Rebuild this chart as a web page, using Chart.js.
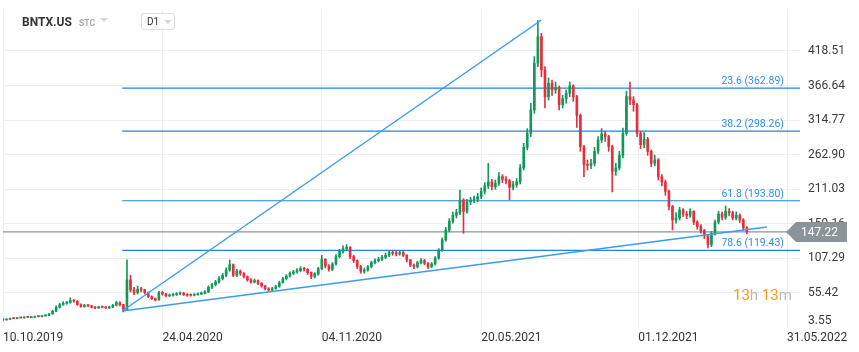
<!DOCTYPE html>
<html>
<head>
<meta charset="utf-8">
<script src="https://cdn.jsdelivr.net/npm/chart.js@4.4.1/dist/chart.umd.min.js"></script>
<style>
  html, body { margin: 0; padding: 0; background: #fff; }
  #wrap { position: relative; width: 859px; height: 352px; overflow: hidden; }
  #chart { position: absolute; left: 0; top: 0; }
  .sym { position: absolute; left: 22px; top: 15px; font: bold 12px Roboto, sans-serif; color: #333; }
  .kind { position: absolute; left: 79px; top: 18px; font: bold 8.5px Roboto, sans-serif; color: #a9a9a9; }
  .tri { position: absolute; width: 0; height: 0; border-left: 4px solid transparent; border-right: 4px solid transparent; border-top: 4px solid #d6d6d6; }
  .tf { position: absolute; left: 141px; top: 13px; width: 34px; height: 17px; border: 1px solid #dedede; border-radius: 3px; background: #fff; box-sizing: border-box; }
  .tf span { position: absolute; left: 5px; top: 2px; font: 10px Roboto, sans-serif; color: #333; }
</style>
</head>
<body>
<div id="wrap">
  <canvas id="chart" width="859" height="352"></canvas>
  <div class="sym">BNTX.US</div>
  <div class="kind">STC</div>
  <div class="tri" style="left:100px; top:18px;"></div>
  <div class="tf"><span>D1</span><div class="tri" style="left:22px; top:6px;"></div></div>
</div>
<script>
// one candle per 3 trading days, x = trading days since 10.10.2019
const opens = [15.5,15,16,17.5,17,18.4,18,19.4,18.7,19, 20.5,20,21,22,24,28,34,38,40,41,
  44,43,38,35,37,36,34,33,34.6,34, 33,34,37,41,38,30,75,60,56,61, 60,56,50,47,45,56,54,51,52,53,
  54,55,53,52.8,52,53,54,55,57,64, 68,72,77,82,90,98,82,88,85,80, 75,72,74,70,66,62,60,62,65,71,
  77,81,85,87,89,92,91,86,80,84, 92,106,96,91,99,110,118,122,124,110, 104,95,88,90,95,101,104,106,109,112,
  116,115,114,116,112,105,97,95,101,104, 100,95,99,108,120,135,150,163,172,176, 195,178,192,195,196,200,208,216,222,215,
  220,230,226,224,214,218,222,243,274,295, 330,400,440,390,350,370,360,364,338,347, 355,366,350,322,275,248,247,250,268,285,
  294,290,275,238,243,262,295,350,345,338, 295,278,286,268,250,255,230,222,208,185, 165,168,180,174,172,178,162,155,149,141,
  128,145,162,174,169,178,176,168,172,165,153];
const highs = [16.5,16.8,17.6,18,18.6,19,19.6,20,19.8,20.8, 21.2,21.8,23,25,29.5,36,40,42.5,43,48,
  46,44,39,38.5,38.5,37,35,35.5,35.8,35, 35.5,38.5,43,42,38.5,105,82,64,66,64, 61,57,51,48,58,58,55,54,55,56,
  57,56.5,54.5,54,54.5,55.5,57,59,66,70, 74.5,80,85,93,105,99,91,90,86,81, 77,76.5,75,71,67,63.5,64,67,73,79,
  83,87,89.5,92,95,94,92,87,86,94, 112,107,98,101,113,121,126,128,125,112, 105,97,93,97,103,106.5,109,112,115,119,
  119,118,119,118,113,106,99,103,107,106, 101,101,110,122,138,154,167,177,181,210, 197,196,199,201,205,213,221,250,226,225,
  236,233,230,226,223,227,248,280,302,340, 410,464,445,395,378,375,372,366,352,360, 372,368,352,324,277,255,256,274,290,302,
  298,292,277,250,268,303,358,372,350,340, 298,296,289,270,262,257,233,225,210,187, 176,184,182,178,182,179,164,158,151,143,
  148,165,178,177,186,182,178,177,174,167,155];
const lows = [14,14.6,15.6,16.6,16.7,17.5,17.6,18.5,18.2,18.6, 19.4,19.6,20.5,21.5,23.5,27.5,33,37,38.5,40,
  41.5,37,34,34,35,33,32,32.3,33,32, 32.2,33.5,36,36,27,29,57,53,54,57, 54,48.5,45.5,43.5,44.5,52,49.5,50,50.5,51.5,
  52.5,51.5,50.5,50.5,51,52,53,54,56,62, 66,70,75,80,88,80,80,82,78,73, 70,70.5,68,64,60,58,58.5,61,64,70,
  75,79,83,85,87,88,83,77,78,82, 90,93,88,89,97,108,115,119,107,101, 92,85,85,88,93,99,102,104,107,110,
  112,111,112,110,102,95,92,93,99,98, 92,93,97,106,118,133,147,160,168,173, 145,175,188,191,192,197,204,212,210,211,
  217,221,219,195,210,214,219,240,270,290, 325,395,380,333,345,352,355,330,333,340, 350,343,304,268,230,240,242,246,264,281,
  283,268,207,232,240,258,292,338,328,290, 272,273,262,245,246,225,216,202,180,150, 160,165,170,167,169,158,151,145,137,123,
  125,142,159,165,166,171,165,165,161,150,144];
const closes = [15,16,17,17,18,18,19,19,19,20, 20,21,22,24,28,34,38,40,41,44,
  43,38,35,37,36,34,33,34,34,33, 34,37,41,38,30,75,60,56,61,60, 56,50,47,45,56,54,51,52,53,54,
  55,53,52,52,53,54,55,57,64,68, 72,77,82,90,98,82,88,85,80,75, 72,74,70,66,62,60,62,65,71,77,
  81,85,87,89,92,91,86,80,84,92, 106,96,91,99,110,118,122,124,110,104, 95,88,90,95,101,104,106,109,112,116,
  115,114,116,112,105,97,95,101,104,100, 95,99,108,120,135,150,163,172,176,195, 178,192,195,196,200,208,216,222,215,220,
  230,226,224,214,218,222,243,274,295,330, 400,440,390,350,370,360,364,338,347,355, 366,350,322,275,248,247,250,268,285,294,
  290,275,238,243,262,295,350,345,338,295, 278,286,268,250,255,230,222,208,185,165, 168,180,174,172,178,162,155,149,141,128,
  145,162,174,169,178,176,168,172,165,153,147.22];

const xTickDays = [0, 135, 270, 405, 538, 664];
const xTickLabels = ["10.10.2019", "24.04.2020", "04.11.2020", "20.05.2021", "01.12.2021", "31.05.2022"];
const yTicks = [55.42, 107.29, 159.16, 211.03, 262.90, 314.77, 366.64, 418.51];
const yBottomLabel = 3.55;

const fibLevels = ["23.6", "38.2", "61.8", "78.6"];
const fibPrices = [362.89, 298.26, 193.80, 119.43];
const fibStartDay = 101;

// drawn trend lines: [day, price] pairs
const fanLine = [[101, 28.4], [456, 465]];
const supportLine = [[101, 28.4], [647, 154.4]];

const lastPrice = 147.22;
const countdown = ["13", "h ", "13", "m"];

const UP = "#12995a", DOWN = "#e62f3c", BLUE = "#1b86e3", GREY = "#8a9499";
const days = closes.map((c, i) => i * 3);
const candleColors = closes.map((c, i) => (c >= opens[i] ? UP : DOWN));

const lineSet = (pts, color, width, order) => ({
  type: "line",
  data: pts.map(p => ({ x: p[0], y: p[1] })),
  borderColor: color,
  borderWidth: width,
  pointRadius: 0,
  fill: false,
  order: order
});

const datasets = [
  lineSet([[0, lastPrice], [664, lastPrice]], GREY, 1.2, 6),
  ...fibPrices.map(p => lineSet([[fibStartDay, p], [675, p]], BLUE, 1.2, 5)),
  {
    data: days.map((d, i) => ({ x: d, y: [lows[i], highs[i]] })),
    backgroundColor: candleColors,
    barThickness: 1,
    grouped: false,
    order: 4
  },
  {
    data: days.map((d, i) => ({ x: d, y: [opens[i], closes[i]] })),
    backgroundColor: candleColors,
    barThickness: 2,
    minBarLength: 1,
    grouped: false,
    order: 3
  },
  lineSet(fanLine, "#3c9cf0", 1.5, 1),
  lineSet(supportLine, "#3c9cf0", 1.5, 1)
];

const overlay = {
  id: "overlay",
  afterDraw(chart) {
    const c = chart.ctx;
    const y = chart.scales.y;
    c.save();
    // fib labels
    c.font = '10.5px Roboto, sans-serif';
    c.fillStyle = "#2d8ee8";
    c.textAlign = "right";
    c.textBaseline = "alphabetic";
    fibPrices.forEach((p, i) => {
      c.fillText(fibLevels[i] + " (" + p.toFixed(2) + ")", 784, y.getPixelForValue(p) - 4);
    });
    // bottom price label sits a little higher than its tick
    c.font = '12px Roboto, sans-serif';
    c.fillStyle = "#3a3a3a";
    c.textAlign = "left";
    c.textBaseline = "middle";
    c.fillText(yBottomLabel.toFixed(2), 808, 321);
    // last price marker
    const py = Math.round(y.getPixelForValue(lastPrice));
    c.fillStyle = GREY;
    c.beginPath();
    c.moveTo(786, py);
    c.lineTo(796, py - 10);
    c.lineTo(847, py - 10);
    c.lineTo(847, py + 10);
    c.lineTo(796, py + 10);
    c.closePath();
    c.fill();
    c.fillStyle = "#fff";
    c.font = '12px Roboto, sans-serif';
    c.fillText(lastPrice.toFixed(2), 801, py + 1);
    // countdown
    c.font = '15px Roboto, sans-serif';
    c.textBaseline = "alphabetic";
    let x = 733;
    countdown.forEach((t, i) => {
      c.fillStyle = i % 2 === 0 ? "#f39c12" : "#b9b9b9";
      c.fillText(t, x, 300);
      x += c.measureText(t).width;
    });
    c.restore();
  }
};

new Chart(document.getElementById("chart"), {
  type: "bar",
  data: { datasets: datasets },
  options: {
    responsive: false,
    animation: false,
    layout: { padding: { left: 3, top: 10, right: 0, bottom: 0 } },
    plugins: { legend: { display: false }, tooltip: { enabled: false } },
    scales: {
      x: {
        type: "linear",
        min: 0,
        max: 675,
        offset: false,
        afterBuildTicks: s => { s.ticks = xTickDays.map(v => ({ value: v })); },
        afterFit: s => { s.height = 24; s.paddingLeft = 0; s.paddingRight = 0; },
        ticks: {
          autoSkip: false,
          maxRotation: 0,
          align: "start",
          padding: 3,
          color: "#333",
          font: { family: "Roboto", size: 12 },
          callback: v => xTickLabels[xTickDays.indexOf(v)]
        },
        grid: { color: "#efefef", drawTicks: false, offset: false },
        border: { display: false }
      },
      y: {
        position: "right",
        min: 2.9,
        max: 480,
        afterBuildTicks: s => { s.ticks = yTicks.map(v => ({ value: v })); },
        afterFit: s => { s.width = 59; s.paddingTop = 0; s.paddingBottom = 0; },
        ticks: {
          padding: 8,
          color: "#3a3a3a",
          font: { family: "Roboto", size: 12 },
          callback: v => v.toFixed(2)
        },
        grid: { color: "#efefef", drawTicks: false },
        border: { display: false }
      }
    }
  },
  plugins: [overlay]
});
</script>
</body>
</html>
